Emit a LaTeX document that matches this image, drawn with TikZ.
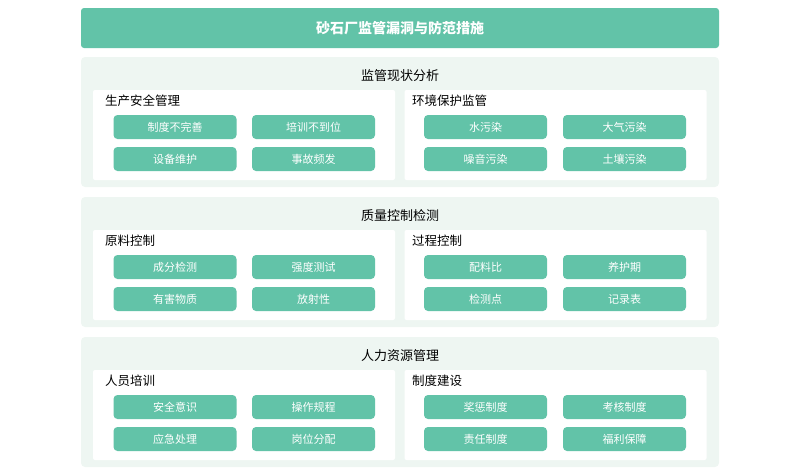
\documentclass[tikz,border=0pt]{standalone}
\usepackage{fontspec}
\setmainfont{Noto Sans CJK SC}
\definecolor{teal}{HTML}{62C3A8}
\definecolor{secbg}{HTML}{EEF6F2}
\tikzset{
 titlebar/.style={fill=teal,rounded corners=3pt,minimum width=638pt,minimum height=40pt,inner sep=0pt,text=white,font=\fontsize{14}{16}\selectfont\bfseries},
 section/.style={fill=secbg,rounded corners=4pt,minimum width=638pt,minimum height=130pt,inner sep=0pt},
 panel/.style={fill=white,rounded corners=2pt,minimum width=302pt,minimum height=90pt,inner sep=0pt},
 pill/.style={fill=teal,rounded corners=4pt,minimum width=123pt,minimum height=24pt,inner sep=0pt,text=white,font=\fontsize{11}{13}\selectfont},
 heading/.style={font=\fontsize{13}{15}\selectfont,inner sep=0pt},
 subhead/.style={font=\fontsize{12.5}{15}\selectfont,inner sep=0pt,anchor=west}
}
\begin{document}
\begin{tikzpicture}[x=1pt,y=-1pt]
\useasboundingbox (0,0) rectangle (800,475);
\node[titlebar] (title) at (400,28) {砂石厂监管漏洞与防范措施};
\foreach \i/\y/\h/\la/\lb/\ra/\rb/\rc/\rd/\lc/\ld/\le/\lf/\ta/\tb/\tc/\td in {
 1/57/监管现状分析/生产安全管理/制度不完善/环境保护监管/水污染/大气污染/噪音污染/培训不到位/设备维护/事故频发/土壤污染/x/x/x/x,
 2/197/质量控制检测/原料控制/成分检测/过程控制/配料比/养护期/检测点/强度测试/有害物质/放射性/记录表/x/x/x/x,
 3/337/人力资源管理/人员培训/安全意识/制度建设/奖惩制度/考核制度/责任制度/操作规程/应急处理/岗位分配/福利保障/x/x/x/x}{
 \node[section] (s\i) at (400,\y+65) {};
 \node[heading] (h\i) at (400,\y+19) {\h};
 \node[panel] (pl\i) at (244,\y+78) {};
 \node[panel] (pr\i) at (555.5,\y+78) {};
 \node[subhead] (sl\i) at (105,\y+44) {\la};
 \node[subhead] (sr\i) at (412,\y+44) {\ra};
 \node[pill] (a\i) at (175,\y+70) {\lb};
 \node[pill] (b\i) at (313.5,\y+70) {\lc};
 \node[pill] (c\i) at (175,\y+102) {\ld};
 \node[pill] (d\i) at (313.5,\y+102) {\le};
 \node[pill] (e\i) at (485.5,\y+70) {\rb};
 \node[pill] (f\i) at (624.5,\y+70) {\rc};
 \node[pill] (g\i) at (485.5,\y+102) {\rd};
 \node[pill] (k\i) at (624.5,\y+102) {\lf};
}
\end{tikzpicture}
\end{document}
